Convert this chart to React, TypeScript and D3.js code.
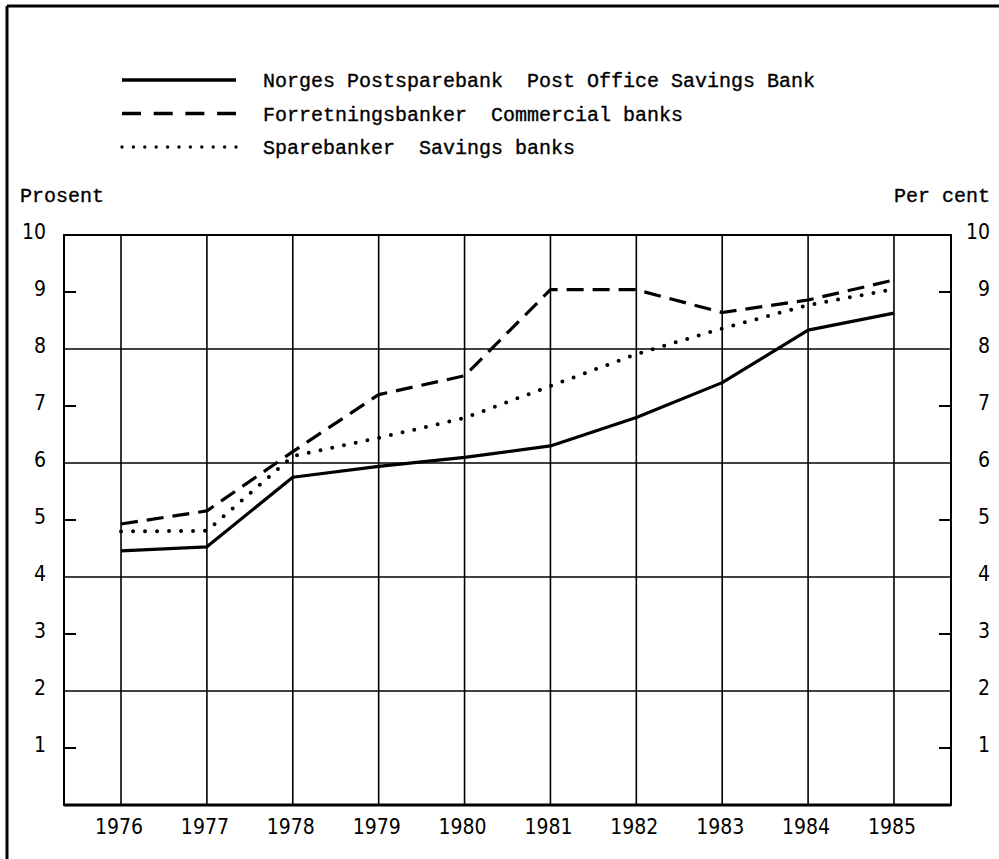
import React from 'react';
import * as d3 from 'd3';

// Rentesatser, prosent
const years = ['1976', '1977', '1978', '1979', '1980', '1981', '1982', '1983', '1984', '1985'];
const postOffice = [4.46, 4.53, 5.75, 5.94, 6.1, 6.3, 6.8, 7.41, 8.33, 8.63];
const commercial = [4.93, 5.16, 6.2, 7.2, 7.53, 9.04, 9.04, 8.64, 8.86, 9.21];
const savings = [4.8, 4.81, 6.12, 6.44, 6.79, 7.35, 7.91, 8.36, 8.77, 9.05];
const yTicks = [1, 2, 3, 4, 5, 6, 7, 8, 9, 10];
const gridValues = [2, 4, 6, 8];

const legendItems = [
  { label: 'Norges Postsparebank  Post Office Savings Bank', dash: 'none' },
  { label: 'Forretningsbanker  Commercial banks', dash: '19 12.7' },
  { label: 'Sparebanker  Savings banks', dash: '0 11.4' },
];

const width = 999;
const height = 859;
const margin = { top: 235, right: 48, bottom: 54, left: 64 };

const mono = "'Liberation Mono', 'DejaVu Sans Mono', monospace";
const sans = "'DejaVu Sans Condensed', 'DejaVu Sans', sans-serif";

const App: React.FC = () => {
  const x = d3.scalePoint<string>()
    .domain(years)
    .range([margin.left, width - margin.right])
    .padding(0.664);

  const y = d3.scaleLinear()
    .domain([0, 10])
    .range([height - margin.bottom, margin.top]);

  const line = d3.line<number>()
    .x((_, i) => x(years[i]) as number)
    .y(d => y(d));

  const left = margin.left;
  const right = width - margin.right;
  const top = y(10);
  const bottom = y(0);

  const series = [
    { values: postOffice, dash: 'none', cap: 'butt' as const },
    { values: commercial, dash: '17 9', cap: 'butt' as const },
    { values: savings, dash: '0 12', cap: 'round' as const },
  ];

  return (
    <svg width={width} height={height} style={{ position: 'absolute', left: 0, top: 0, background: '#fff' }}>
      {/* page frame */}
      <line x1={7} y1={6} x2={7} y2={height} stroke="#000" strokeWidth={3} />
      <line x1={7} y1={6} x2={width} y2={6} stroke="#000" strokeWidth={3} />

      {/* legend */}
      {legendItems.map((item, i) => {
        const ly = 80 + i * 33.5;
        return (
          <g key={item.label}>
            <line x1={122} x2={236} y1={ly} y2={ly} stroke="#000"
              strokeWidth={i === 2 ? 3.4 : 3.4}
              strokeDasharray={item.dash}
              strokeLinecap={i === 2 ? 'round' : 'butt'} />
            <text x={263} y={ly + 7} fontFamily={mono} fontSize={20} stroke="#000" strokeWidth={0.35}
              style={{ whiteSpace: 'pre' }}>
              {item.label}
            </text>
          </g>
        );
      })}

      <text x={20} y={202} fontFamily={mono} fontSize={20} stroke="#000" strokeWidth={0.35}>Prosent</text>
      <text x={990} y={202} fontFamily={mono} fontSize={20} stroke="#000" strokeWidth={0.35}
        textAnchor="end" style={{ whiteSpace: 'pre' }}>Per cent</text>

      {/* grid */}
      {years.map(yr => (
        <line key={yr} x1={x(yr)} x2={x(yr)} y1={top} y2={bottom} stroke="#000" strokeWidth={1.6} />
      ))}
      {gridValues.map(v => (
        <line key={v} x1={left} x2={right} y1={y(v)} y2={y(v)} stroke="#000" strokeWidth={1.6} />
      ))}
      {yTicks.filter(v => v % 2 === 1).map(v => (
        <g key={v}>
          <line x1={left} x2={left + 12} y1={y(v)} y2={y(v)} stroke="#000" strokeWidth={2} />
          <line x1={right - 12} x2={right} y1={y(v)} y2={y(v)} stroke="#000" strokeWidth={2} />
        </g>
      ))}
      <rect x={left} y={top} width={right - left} height={bottom - top} fill="none" stroke="#000" strokeWidth={2} />
      <line x1={left} x2={right} y1={bottom} y2={bottom} stroke="#000" strokeWidth={3} />

      {/* y labels */}
      {yTicks.map(v => (
        <g key={v} fontFamily={sans} fontSize={21} fontStretch="condensed">
          <text x={46} y={y(v) + 4} textAnchor="end">{v}</text>
          <text x={990} y={y(v) + 4} textAnchor="end">{v}</text>
        </g>
      ))}

      {/* x labels */}
      {years.map(yr => (
        <text key={yr} x={(x(yr) as number) - 2} y={834} textAnchor="middle"
          fontFamily={sans} fontSize={21} fontStretch="condensed">{yr}</text>
      ))}

      {/* series */}
      {series.map((s, i) => (
        <path key={i} d={line(s.values) || ''} fill="none" stroke="#000"
          strokeWidth={s.cap === 'round' ? 4 : 3.2}
          strokeDasharray={s.dash} strokeLinecap={s.cap} strokeLinejoin="round" />
      ))}
    </svg>
  );
};

export default App;
